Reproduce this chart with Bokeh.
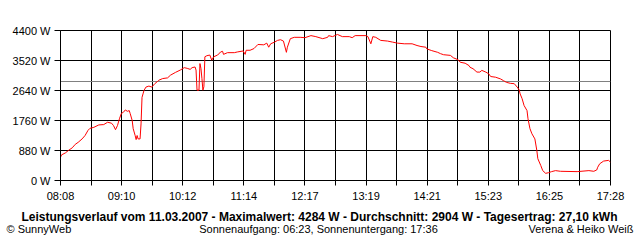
from bokeh.plotting import figure
from bokeh.models import (Range1d, FixedTicker, CustomJSTickFormatter,
                          PrintfTickFormatter, Span, Label)
from bokeh.embed import file_html
from bokeh.resources import INLINE

# ---- data ----
times = [
    "08:08", "08:09", "08:13", "08:16", "08:20", "08:23", "08:26", "08:30", "08:33", "08:36",
    "08:38", "08:42", "08:47", "08:52", "08:56", "09:00", "09:02", "09:04", "09:06", "09:08",
    "09:10", "09:12", "09:14", "09:16", "09:18", "09:19", "09:21", "09:22", "09:24", "09:25",
    "09:26", "09:27", "09:29", "09:30", "09:31", "09:32", "09:33", "09:35", "09:38", "09:41",
    "09:44", "09:47", "09:48", "09:52", "09:57", "10:00", "10:05", "10:10", "10:14", "10:17",
    "10:20", "10:22", "10:25", "10:26", "10:27", "10:29", "10:30", "10:31", "10:32", "10:33",
    "10:34", "10:35", "10:37", "10:40", "10:42", "10:44", "10:48", "10:51", "10:53", "10:54",
    "10:58", "11:05", "11:08", "11:14", "11:16", "11:17", "11:21", "11:25", "11:29", "11:35",
    "11:38", "11:40", "11:42", "11:46", "11:49", "11:52", "11:55", "11:58", "11:59", "12:02",
    "12:06", "12:12", "12:17", "12:23", "12:28", "12:35", "12:40", "12:41", "12:45", "12:50",
    "12:55", "13:02", "13:05", "13:08", "13:19", "13:21", "13:24", "13:26", "13:29", "13:34",
    "13:41", "13:46", "13:51", "13:58", "14:06", "14:11", "14:15", "14:20", "14:21", "14:26",
    "14:32", "14:35", "14:38", "14:45", "14:48", "14:53", "14:55", "15:00", "15:04", "15:05",
    "15:08", "15:12", "15:15", "15:17", "15:21", "15:24", "15:26", "15:31", "15:36", "15:39",
    "15:42", "15:46", "15:50", "15:53", "15:55", "15:56", "15:58", "16:00", "16:03", "16:04",
    "16:06", "16:08", "16:11", "16:13", "16:14", "16:17", "16:19", "16:22", "16:25", "16:28",
    "16:32", "16:37", "16:54", "17:06", "17:11", "17:14", "17:15", "17:17", "17:21", "17:26",
    "17:28",
]
watts = [
    680, 750, 810, 880, 960, 1060, 1120, 1220, 1320, 1470,
    1530, 1560, 1630, 1640, 1710, 1680, 1610, 1490, 1610, 1810,
    1970, 2000, 2070, 2030, 2050, 1960, 1760, 1520, 1320, 1200,
    1320, 1220, 1220, 1660, 2440, 2540, 2640, 2740, 2770, 2740,
    2840, 2910, 2940, 2990, 3010, 3090, 3170, 3240, 3310, 3290,
    3260, 3310, 3330, 3240, 2650, 2650, 3430, 3290, 2990, 2650,
    2750, 3630, 3660, 3680, 3530, 3630, 3680, 3770, 3790, 3700,
    3750, 3750, 3770, 3800, 3700, 3820, 3820, 3870, 3990, 3980,
    4030, 3910, 4010, 4060, 4110, 4130, 4090, 3760, 3910, 4160,
    4200, 4200, 4190, 4250, 4220, 4160, 4200, 4250, 4220, 4284,
    4220, 4220, 4190, 4250, 4250, 4220, 4010, 4220, 4200, 4110,
    4090, 4060, 4030, 4010, 4010, 3960, 3930, 3910, 3860, 3810,
    3760, 3720, 3690, 3670, 3600, 3540, 3470, 3440, 3370, 3320,
    3280, 3180, 3180, 3230, 3180, 3130, 3050, 3030, 2980, 2930,
    2880, 2850, 2840, 2740, 2660, 2540, 2400, 2200, 2050, 1810,
    1520, 1370, 1220, 880, 640, 440, 290, 210, 230, 260,
    290, 270, 260, 290, 270, 310, 390, 490, 570, 590,
    540,
]
average_w = 2904
x_start, x_end = "08:08", "17:28"
x_tick_labels = ["08:08", "09:10", "10:12", "11:14", "12:17",
                 "13:19", "14:21", "15:23", "16:25", "17:28"]
y_ticks = [0, 880, 1760, 2640, 3520, 4400]
title_text = ("Leistungsverlauf vom 11.03.2007 - Maximalwert: 4284 W - "
              "Durchschnitt: 2904 W - Tagesertrag: 27,10 kWh")
footer_left = "\u00a9 SunnyWeb"
footer_center = "Sonnenaufgang: 06:23, Sonnenuntergang: 17:36"
footer_right = "Verena & Heiko Wei\u00df"


def to_min(s):
    h, m = s.split(":")
    return int(h) * 60 + int(m)


xs = [to_min(t) for t in times]
x0, x1 = to_min(x_start), to_min(x_end)
n_grid = 2 * (len(x_tick_labels) - 1)
grid_pos = [x0 + k * (x1 - x0) / n_grid for k in range(n_grid + 1)]
major = grid_pos[0::2]
minor = grid_pos[1::2]

FONT = "Liberation Sans"

# ---- main chart ----
p = figure(width=640, height=205, output_backend="svg", toolbar_location=None,
           x_range=Range1d(x0, x1), y_range=Range1d(0, 4400),
           min_border_left=60, min_border_right=30, min_border_top=30,
           min_border_bottom=25)
p.background_fill_color = "white"
p.border_fill_color = "white"
p.outline_line_color = "black"
p.outline_line_width = 1

p.xaxis.ticker = FixedTicker(ticks=major, minor_ticks=minor)
p.xaxis.formatter = CustomJSTickFormatter(args=dict(labels=x_tick_labels),
                                          code="return labels[index] ?? ''")
p.yaxis.ticker = FixedTicker(ticks=y_ticks)
p.yaxis.formatter = PrintfTickFormatter(format="%d W")

for ax in (p.xaxis, p.yaxis):
    ax.axis_line_color = "black"
    ax.major_tick_line_color = "black"
    ax.minor_tick_line_color = "black"
    ax.major_tick_in = 0
    ax.minor_tick_in = 0
    ax.major_label_text_font = FONT
    ax.major_label_text_font_size = "11px"
    ax.major_label_text_color = "black"
p.xaxis.major_tick_out = 5
p.xaxis.minor_tick_out = 5
p.xaxis.major_label_standoff = 4
p.yaxis.major_tick_out = 6
p.yaxis.minor_tick_out = 0
p.yaxis.major_label_standoff = 4

for g in (p.xgrid, p.ygrid):
    g.grid_line_color = "black"
    g.grid_line_alpha = 1.0
    g.grid_line_width = 1
p.xgrid.minor_grid_line_color = "black"

p.add_layout(Span(location=average_w, dimension="width", line_color="#808080",
                  line_width=1, level="underlay"))
p.line(xs, watts, line_color="#ff0000", line_width=1)

# ---- footer strip with the caption texts (separate root, full-width frame) ----
f = figure(width=640, height=35, output_backend="svg", toolbar_location=None,
           x_range=Range1d(0, 640), y_range=Range1d(0, 35),
           x_axis_type=None, y_axis_type=None,
           min_border_left=0, min_border_right=0, min_border_top=0,
           min_border_bottom=0)
f.outline_line_color = None
f.background_fill_color = "white"
f.border_fill_color = "white"
f.xgrid.visible = False
f.ygrid.visible = False

f.add_layout(Label(x=319, y=24, x_units="screen", y_units="screen", text=title_text,
                   text_align="center", text_baseline="middle", text_font=FONT,
                   text_font_size="12px", text_font_style="bold", text_color="black"))
f.add_layout(Label(x=6, y=12, x_units="screen", y_units="screen", text=footer_left,
                   text_align="left", text_baseline="middle", text_font=FONT,
                   text_font_size="11px", text_color="black"))
f.add_layout(Label(x=318, y=12, x_units="screen", y_units="screen", text=footer_center,
                   text_align="center", text_baseline="middle", text_font=FONT,
                   text_font_size="11px", text_color="black"))
f.add_layout(Label(x=633, y=12, x_units="screen", y_units="screen", text=footer_right,
                   text_align="right", text_baseline="middle", text_font=FONT,
                   text_font_size="11px", text_color="black"))

open("out.html", "w").write(file_html([p, f], INLINE))
